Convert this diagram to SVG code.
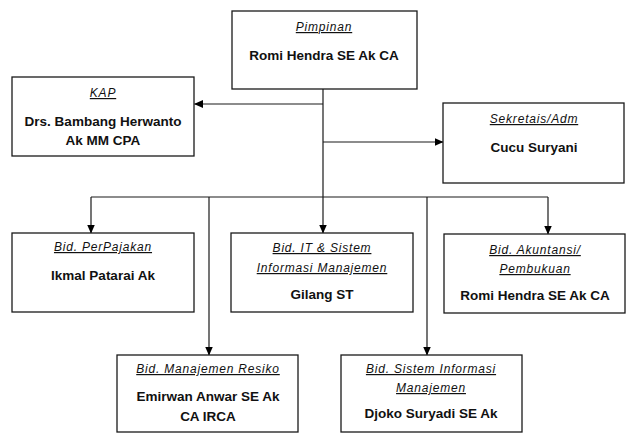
<svg xmlns="http://www.w3.org/2000/svg" width="640" height="441" viewBox="0 0 640 441">
<defs>
<marker id="ah" markerWidth="9" markerHeight="8" refX="8.5" refY="4" orient="auto" markerUnits="userSpaceOnUse">
<path d="M0,0 L9,4 L0,8 Z" fill="#000"/>
</marker>
<style>
.box{fill:#fff;stroke:#1a1a1a;stroke-width:1.3}
.t{font-family:"Liberation Sans",Arial,sans-serif;font-style:italic;font-size:12px;letter-spacing:0.8px;text-decoration:underline;fill:#111;text-anchor:middle}
.n{font-family:"Liberation Sans",Arial,sans-serif;font-weight:bold;font-size:13.5px;fill:#111;text-anchor:middle}
.c{fill:none;stroke:#1a1a1a;stroke-width:1.2}
</style>
</defs>
<rect width="640" height="441" fill="#fff"/>
<g id="connectors">
<path class="c" d="M323,89 V197"/>
<path class="c" d="M323,104 H194.5" marker-end="url(#ah)"/>
<path class="c" d="M323,142 H443" marker-end="url(#ah)"/>
<path class="c" d="M91,197 H548"/>
<path class="c" d="M91,197 V233" marker-end="url(#ah)"/>
<path class="c" d="M323,197 V233" stroke-width="1.6" marker-end="url(#ah)"/>
<path class="c" d="M548,197 V234" marker-end="url(#ah)"/>
<path class="c" d="M209,197 V355" marker-end="url(#ah)"/>
<path class="c" d="M427,197 V355" marker-end="url(#ah)"/>
</g>
<g id="pimpinan">
<rect class="box" x="232" y="11" width="185" height="78"/>
<text class="t" x="324" y="31">Pimpinan</text>
<text class="n" x="324" y="60">Romi Hendra SE Ak CA</text>
</g>
<g id="kap">
<rect class="box" x="12" y="77" width="182" height="79"/>
<text class="t" x="103" y="97">KAP</text>
<text class="n" x="103" y="126">Drs. Bambang Herwanto</text>
<text class="n" x="103" y="145">Ak MM CPA</text>
</g>
<g id="sekretaris">
<rect class="box" x="443" y="103" width="181" height="80"/>
<text class="t" x="534" y="123">Sekretais/Adm</text>
<text class="n" x="534" y="152">Cucu Suryani</text>
</g>
<g id="perpajakan">
<rect class="box" x="12" y="233" width="182" height="79"/>
<text class="t" x="103" y="251">Bid. PerPajakan</text>
<text class="n" x="103" y="280">Ikmal Patarai Ak</text>
</g>
<g id="it">
<rect class="box" x="231" y="233" width="182" height="79"/>
<text class="t" x="322" y="252">Bid. IT &amp; Sistem</text>
<text class="t" x="322" y="272">Informasi Manajemen</text>
<text class="n" x="322" y="299">Gilang ST</text>
</g>
<g id="akuntansi">
<rect class="box" x="444" y="234" width="181" height="79"/>
<text class="t" x="535" y="254">Bid. Akuntansi/</text>
<text class="t" x="535" y="273">Pembukuan</text>
<text class="n" x="535" y="300">Romi Hendra SE Ak CA</text>
</g>
<g id="resiko">
<rect class="box" x="117" y="355" width="181" height="77"/>
<text class="t" x="208" y="373">Bid. Manajemen Resiko</text>
<text class="n" x="208" y="401">Emirwan Anwar SE Ak</text>
<text class="n" x="208" y="421">CA IRCA</text>
</g>
<g id="sim">
<rect class="box" x="341" y="355" width="181" height="77"/>
<text class="t" x="431" y="373">Bid. Sistem Informasi</text>
<text class="t" x="431" y="392">Manajemen</text>
<text class="n" x="431" y="418">Djoko Suryadi SE Ak</text>
</g>
</svg>
